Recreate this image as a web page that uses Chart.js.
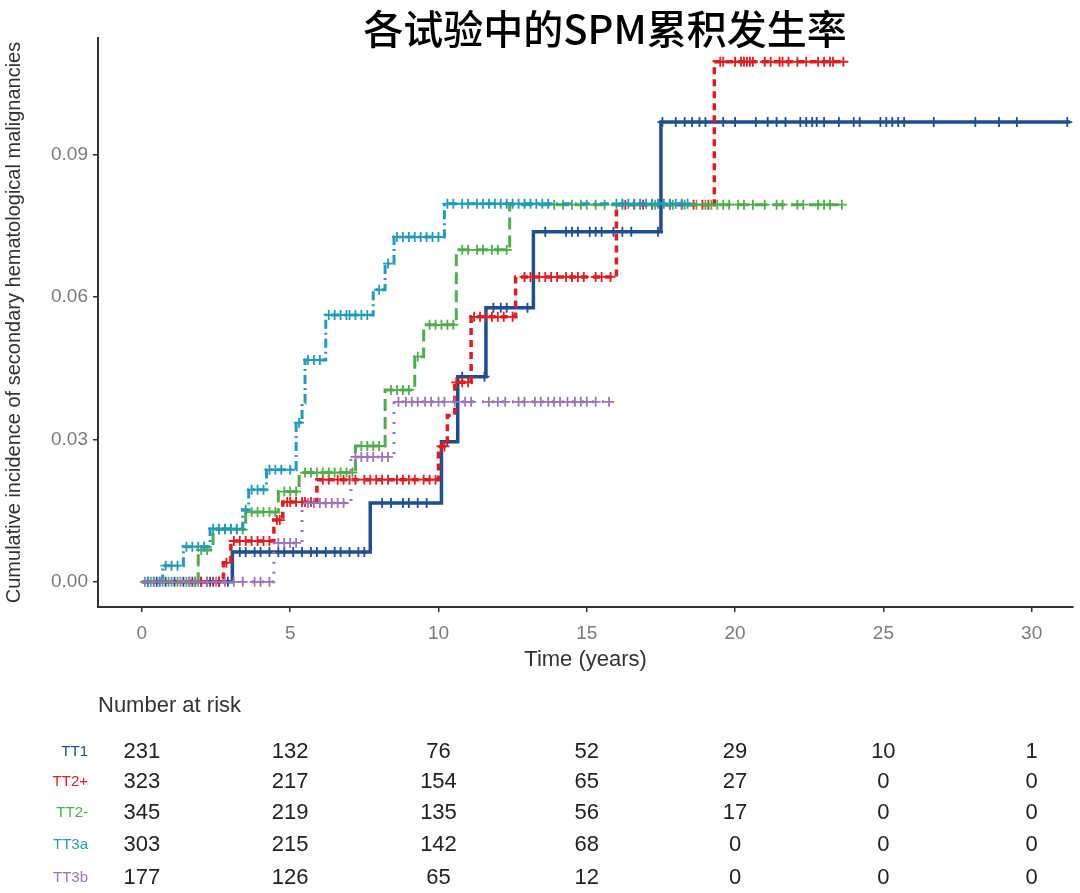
<!DOCTYPE html>
<html>
<head>
<meta charset="utf-8">
<script src="https://cdn.jsdelivr.net/npm/chart.js@4/dist/chart.umd.min.js"></script>
<style>
    html, body { margin: 0; padding: 0; background: #fff; }
    #wrap { position: relative; width: 1080px; height: 893px; overflow: hidden; }
    #chart { position: absolute; left: 0; top: 0; }
    #title {
        position: absolute; left: 0; width: 1210px; top: -2px; text-align: center;
        font-family: "Noto Sans CJK SC", sans-serif; font-size: 40px; font-weight: 500; color: #000;
    }
    #riskHead {
        position: absolute; left: 98px; top: 692px;
        font-family: "Liberation Sans", Arial, sans-serif; font-size: 22px; color: #333;
    }
    .risk-label {
        position: absolute; width: 80px; text-align: right;
        font-family: "Liberation Sans", Arial, sans-serif; font-size: 15px;
    }
    .risk-num {
        position: absolute; width: 80px; text-align: center;
        font-family: "Liberation Sans", Arial, sans-serif; font-size: 22px; color: #222;
    }
</style>
</head>
<body>
<div id="wrap">
    <canvas id="chart" width="1080" height="893"></canvas>
    <div id="title">各试验中的SPM累积发生率</div>
    <div id="riskHead">Number at risk</div>
    <div id="riskTable"></div>
</div>
<script>
// axis ticks
const timeTicks = [0, 5, 10, 15, 20, 25, 30];
const incTicks = [0, 0.03, 0.06, 0.09];

// groups and colours
const groups = ['TT1', 'TT2+', 'TT2-', 'TT3a', 'TT3b'];
const colors = ['#1d4f91', '#e41a1c', '#4daf4a', '#1f9bbf', '#9d74bb'];

// step curves (time in years, cumulative incidence)
const tt1Time = [0, 3.05, 7.7, 10.1, 10.65, 11.6, 13.2, 17.5, 31.3];
const tt1Inc = [0, 0.0063, 0.0166, 0.0295, 0.0432, 0.0577, 0.0737, 0.0968, 0.0968];

const tt2pTime = [0, 2.75, 3.0, 4.45, 4.75, 5.9, 10.0, 10.3, 10.55, 11.1, 12.6, 16.0, 19.3, 23.7];
const tt2pInc = [0, 0.004, 0.0086, 0.013, 0.0168, 0.0215, 0.0285, 0.035, 0.042, 0.0558, 0.0642, 0.0794, 0.1095, 0.1095];

const tt2mTime = [0, 1.9, 2.4, 3.5, 4.6, 5.3, 7.2, 8.2, 9.2, 9.5, 10.6, 12.4, 23.65];
const tt2mInc = [0, 0.0067, 0.011, 0.0147, 0.019, 0.023, 0.0286, 0.0404, 0.0474, 0.0541, 0.0699, 0.0794, 0.0794];

const tt3aTime = [0, 0.7, 1.4, 2.3, 3.4, 3.6, 4.2, 5.2, 5.4, 5.5, 6.2, 7.8, 8.2, 8.5, 10.2, 18.5];
const tt3aInc = [0, 0.0034, 0.0074, 0.0112, 0.0152, 0.0194, 0.0236, 0.0335, 0.0377, 0.0467, 0.0562, 0.0615, 0.067, 0.0726, 0.0796, 0.0796];

const tt3bTime = [0, 4.45, 5.4, 7.05, 8.5, 15.8];
const tt3bInc = [0, 0.0082, 0.0166, 0.0263, 0.0379, 0.0379];

// censoring times (+ marks)
const tt1Censor = [0.2, 0.5, 0.8, 1.1, 1.4, 1.7, 2.0, 2.3, 2.6, 2.9,
    3.3, 3.5, 3.8, 4.0, 4.3, 4.6, 4.8, 5.1, 5.4, 5.7, 5.9, 6.2, 6.5, 6.7, 7.0, 7.3, 7.5,
    8.1, 8.4, 8.8, 9.0, 9.3, 9.6, 10.3, 10.8, 11.55, 11.85, 12.1, 12.3, 13.0,
    13.6, 14.3, 14.5, 14.7, 15.1, 15.3, 15.5, 15.9, 16.2, 16.5, 17.4,
    17.55, 18.0, 18.3, 18.55, 18.8, 19.0, 19.6, 20.0, 20.7, 21.1, 21.4, 21.7, 22.2, 22.4,
    22.6, 22.75, 23.0, 23.5, 24.0, 24.2, 24.9, 25.1, 25.3, 25.5, 25.7, 26.7, 28.1, 28.9, 29.5, 31.2];
const tt2pCensor = [1.6, 1.8, 2.0, 2.2, 2.4, 2.6, 2.85, 3.1, 3.3, 3.5, 3.7, 3.9, 4.1, 4.3,
    4.55, 4.65, 4.9, 5.0, 5.2, 5.4, 5.5, 5.7,
    6.1, 6.3, 6.6, 6.8, 7.0, 7.2, 7.5, 7.7, 7.9, 8.1, 8.3, 8.6, 8.8, 9.0, 9.2, 9.5, 9.7, 9.9,
    10.1, 10.2, 10.6, 10.8, 11.0, 11.2, 11.4, 11.6, 11.8, 12.0, 12.2, 12.5,
    12.9, 13.1, 13.4, 13.6, 13.8, 14.0, 14.3, 14.5, 14.7, 14.9, 15.3, 15.5, 15.8,
    16.3, 16.6, 16.9, 17.2, 17.8, 18.2, 18.6, 18.9, 19.1,
    19.5, 19.6, 20.0, 20.2, 20.3, 20.4, 20.5, 20.6, 21.0, 21.2, 21.5, 21.6, 21.8, 22.1, 22.4, 22.8, 23.0, 23.2, 23.3, 23.65];
const tt2mCensor = [0.3, 0.6, 0.9, 1.2, 1.5, 1.8, 2.0, 2.2, 2.6, 2.8, 3.0, 3.2, 3.4,
    3.7, 3.9, 4.1, 4.3, 4.5, 4.8, 5.0, 5.2, 5.5, 5.7, 5.9, 6.1, 6.3, 6.5, 6.7, 6.9, 7.1,
    7.4, 7.6, 7.8, 8.0, 8.4, 8.6, 8.8, 9.0, 9.3, 9.7, 9.9, 10.1, 10.3, 10.5,
    10.8, 11.0, 11.3, 11.5, 11.8, 12.0, 12.3, 13.9, 14.2, 14.5, 14.8, 15.0, 15.3, 15.6,
    16.2, 16.8, 17.3, 17.9, 18.3, 18.7, 19.0, 19.2, 19.4, 19.6, 19.8, 20.1, 20.3, 20.6,
    21.0, 21.4, 21.6, 22.1, 22.3, 22.8, 23.0, 23.2, 23.6];
const tt3aCensor = [0.2, 0.4, 0.6, 0.8, 1.0, 1.2, 1.5, 1.7, 1.9, 2.1, 2.4, 2.6, 2.8, 3.0, 3.2,
    3.5, 3.7, 3.9, 4.1, 4.3, 4.5, 4.7, 5.0, 5.3, 5.6, 5.8, 6.0,
    6.3, 6.5, 6.7, 6.9, 7.0, 7.2, 7.4, 7.6, 8.0, 8.3,
    8.6, 8.8, 9.0, 9.2, 9.4, 9.6, 9.8, 10.0,
    10.3, 10.5, 10.8, 11.0, 11.3, 11.5, 11.7, 11.9, 12.1, 12.3, 12.5, 12.7, 12.9, 13.1, 13.3, 13.5, 13.7,
    16.0, 16.2, 16.4, 16.6, 16.8, 17.0, 17.2, 17.4, 17.6, 17.8, 18.0, 18.2, 18.4];
const tt3bCensor = [0.1, 0.4, 0.7, 1.0, 1.3, 1.6, 1.9, 2.2, 2.5, 2.8, 3.1, 3.4, 3.8, 4.0, 4.3,
    4.6, 4.8, 5.0, 5.2, 5.6, 5.8, 6.0, 6.2, 6.4, 6.6, 6.8, 7.2, 7.4, 7.6, 7.8, 8.1, 8.3,
    8.65, 8.9, 9.1, 9.3, 9.55, 9.75, 10.0, 10.2, 10.55, 10.9, 11.1, 11.7, 12.0, 12.25, 12.7,
    12.9, 13.25, 13.45, 13.7, 13.9, 14.1, 14.35, 14.6, 14.8, 15.0, 15.3, 15.75];

// number at risk table
const riskTimes = [0, 5, 10, 15, 20, 25, 30];
const riskTT1 = [231, 132, 76, 52, 29, 10, 1];
const riskTT2p = [323, 217, 154, 65, 27, 0, 0];
const riskTT2m = [345, 219, 135, 56, 17, 0, 0];
const riskTT3a = [303, 215, 142, 68, 0, 0, 0];
const riskTT3b = [177, 126, 65, 12, 0, 0, 0];

const curves = [
    { time: tt1Time, inc: tt1Inc, censor: tt1Censor, dash: [], width: 3.5 },
    { time: tt2pTime, inc: tt2pInc, censor: tt2pCensor, dash: [7, 5], width: 3.5 },
    { time: tt2mTime, inc: tt2mInc, censor: tt2mCensor, dash: [12, 6], width: 3 },
    { time: tt3aTime, inc: tt3aInc, censor: tt3aCensor, dash: [9, 4, 2, 4], width: 3 },
    { time: tt3bTime, inc: tt3bInc, censor: tt3bCensor, dash: [2, 8], width: 3 }
];
const riskRows = [riskTT1, riskTT2p, riskTT2m, riskTT3a, riskTT3b];

// level of a step curve at time t
function levelAt(times, inc, t) {
    let v = inc[0];
    for (let i = 0; i < times.length; i++) {
        if (times[i] <= t) v = inc[i];
    }
    return v;
}

const datasets = [];
curves.forEach((c, i) => {
    datasets.push({
        label: groups[i],
        data: c.time.map((t, k) => ({ x: t, y: c.inc[k] })),
        showLine: true,
        stepped: 'before', // horizontal first, then jump (KM style)
        borderColor: colors[i],
        borderWidth: c.width,
        borderDash: c.dash,
        pointRadius: 0,
        order: 10 - i * 2
    });
    datasets.push({
        label: groups[i] + ' censored',
        data: c.censor.map(t => ({ x: t, y: levelAt(c.time, c.inc, t) })),
        showLine: false,
        pointStyle: 'cross',
        pointRadius: 5,
        pointBorderWidth: 1.8,
        borderColor: colors[i],
        backgroundColor: colors[i],
        order: 9 - i * 2
    });
});

const tickFont = { family: 'Liberation Sans', size: 19 };

const chart = new Chart(document.getElementById('chart'), {
    type: 'scatter',
    data: { datasets: datasets },
    options: {
        responsive: false,
        animation: false,
        layout: { padding: { left: 0, right: 2, top: 38, bottom: 216 } },
        plugins: { legend: { display: false }, tooltip: { enabled: false } },
        scales: {
            x: {
                type: 'linear',
                min: -1.48,
                max: 31.4,
                afterBuildTicks: s => { s.ticks = timeTicks.map(v => ({ value: v })); },
                afterFit: s => { s.height = 70; },
                grid: { drawOnChartArea: false, drawTicks: true, tickLength: 5, color: '#333', lineWidth: 1.5 },
                border: { display: true, color: '#333', width: 2 },
                ticks: { color: '#7a7a7a', font: tickFont, padding: 10, maxRotation: 0 },
                title: {
                    display: true, text: 'Time (years)', color: '#333',
                    font: { family: 'Liberation Sans', size: 22 }, padding: { top: 4, bottom: 4 }
                }
            },
            y: {
                min: -0.0053,
                max: 0.1145,
                afterBuildTicks: s => { s.ticks = incTicks.map(v => ({ value: v })); },
                afterFit: s => { s.width = 98; },
                grid: { drawOnChartArea: false, drawTicks: true, tickLength: 5, color: '#333', lineWidth: 1.5 },
                border: { display: true, color: '#333', width: 2 },
                ticks: { color: '#7a7a7a', font: tickFont, padding: 5, callback: v => v.toFixed(2) },
                title: {
                    display: true, text: 'Cumulative incidence of secondary hematological malignancies',
                    color: '#333', font: { family: 'Liberation Sans', size: 20 }, padding: { top: 2, bottom: 2 }
                }
            }
        }
    }
});

// number at risk table, aligned on the time axis
const riskTable = document.getElementById('riskTable');
const rowTops = [738, 768, 799, 831, 864];
riskRows.forEach((row, r) => {
    const lab = document.createElement('div');
    lab.className = 'risk-label';
    lab.style.left = '8px';
    lab.style.top = (rowTops[r] + 4) + 'px';
    lab.style.color = colors[r];
    lab.textContent = groups[r];
    riskTable.appendChild(lab);
    row.forEach((n, k) => {
        const cell = document.createElement('div');
        cell.className = 'risk-num';
        cell.style.left = (chart.scales.x.getPixelForValue(riskTimes[k]) - 40) + 'px';
        cell.style.top = rowTops[r] + 'px';
        cell.textContent = n;
        riskTable.appendChild(cell);
    });
});
</script>
</body>
</html>
